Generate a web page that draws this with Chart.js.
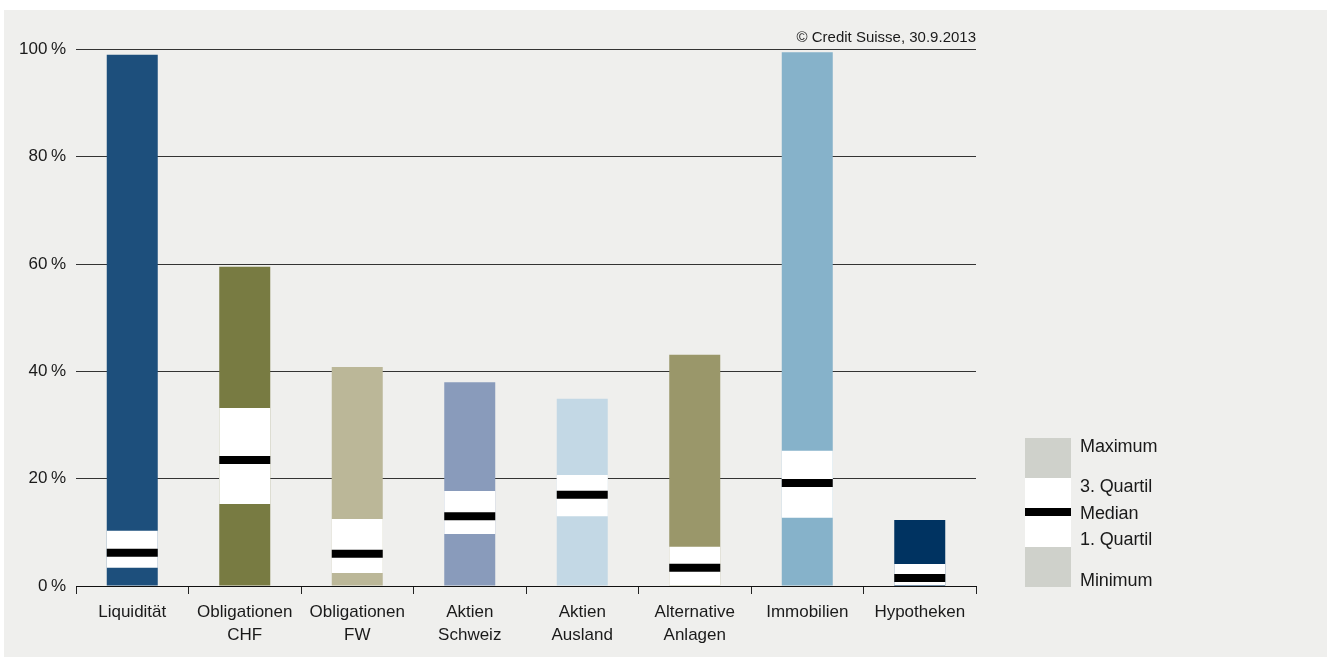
<!DOCTYPE html>
<html>
<head>
<meta charset="utf-8">
<script src="https://cdn.jsdelivr.net/npm/chart.js@4.4.1/dist/chart.umd.min.js"></script>
<style>
  html, body { margin: 0; padding: 0; background: #ffffff; }
  #bg { position: absolute; left: 4px; top: 10px; width: 1323px; height: 647px; background: #efefed; }
  #wrap { position: absolute; left: 0; top: 0; width: 1330px; height: 657px; }
  .lg { position: absolute; font-family: "Liberation Sans", Arial, sans-serif; font-size: 18px; color: #1a1a1a; letter-spacing: -0.1px; }
  .box { position: absolute; left: 1025px; width: 46px; }
</style>
</head>
<body>
<div id="bg"></div>
<div id="wrap"><canvas id="c" width="1330" height="657"></canvas></div>
<div class="box" style="top:438px;height:40px;background:#cfd1cb"></div>
<div class="box" style="top:478px;height:69px;background:#ffffff"></div>
<div class="box" style="top:508px;height:8px;background:#000000"></div>
<div class="box" style="top:547px;height:40px;background:#cfd1cb"></div>
<div class="lg" style="left:1080px;top:436px">Maximum</div>
<div class="lg" style="left:1080px;top:476px">3. Quartil</div>
<div class="lg" style="left:1080px;top:503px">Median</div>
<div class="lg" style="left:1080px;top:529px">1. Quartil</div>
<div class="lg" style="left:1080px;top:570px">Minimum</div>
<script>
const categories = [["Liquidität"], ["Obligationen", "CHF"], ["Obligationen", "FW"], ["Aktien", "Schweiz"], ["Aktien", "Ausland"], ["Alternative", "Anlagen"], ["Immobilien"], ["Hypotheken"]];
const maximum  = [99.0, 59.5, 40.8, 38.0, 34.9, 43.1, 99.5, 12.3];
const quartil3 = [10.3, 33.2, 12.5, 17.7, 20.7, 7.3, 25.2, 4.1];
const median   = [6.2, 23.5, 6.0, 13.0, 17.0, 3.4, 19.2, 1.5];
const quartil1 = [3.4, 15.3, 2.4, 9.7, 13.0, 0.1, 12.7, 0.2];
const yTicks   = [0, 20, 40, 60, 80, 100];
const colors   = ["#1d4f7c", "#787b42", "#bbb798", "#899bbb", "#c3d8e5", "#9a976a", "#86b2ca", "#003361"];

const FONT = "'Liberation Sans', Arial, sans-serif";

const copyright = {
  id: 'copyright',
  afterDraw(chart) {
    const ctx = chart.ctx;
    ctx.save();
    ctx.font = "15px " + FONT;
    ctx.fillStyle = "#1a1a1a";
    ctx.textAlign = "right";
    ctx.textBaseline = "alphabetic";
    ctx.fillText("© Credit Suisse, 30.9.2013", chart.chartArea.right, 42);
    ctx.restore();
  }
};

new Chart(document.getElementById('c'), {
  data: {
    labels: categories,
    datasets: [
      { type: 'bar', label: 'Range', data: maximum, backgroundColor: colors, order: 3,
        barPercentage: 0.4533, categoryPercentage: 1.0 },
      { type: 'bar', label: 'Quartile', data: quartil1.map((q, i) => [q, quartil3[i]]), backgroundColor: '#ffffff', order: 2,
        barPercentage: 0.4533, categoryPercentage: 1.0 },
      { type: 'line', label: 'Median', data: median, showLine: false, order: 1,
        pointStyle: 'line', pointRadius: 25.5, pointHoverRadius: 25.5, pointBorderWidth: 8, pointHoverBorderWidth: 8,
        borderColor: '#000000', backgroundColor: '#000000' }
    ]
  },
  options: {
    responsive: false,
    animation: false,
    events: [],
    layout: { padding: { top: 49.5, right: 354, left: 0, bottom: 0 } },
    plugins: { legend: { display: false }, tooltip: { enabled: false } },
    scales: {
      x: {
        stacked: true,
        offset: true,
        grid: { display: true, drawOnChartArea: false, offset: true, tickLength: 8, color: '#222', lineWidth: 1 },
        border: { display: true, color: '#111', width: 1 },
        ticks: { color: '#1a1a1a', font: { family: FONT, size: 17, lineHeight: 1.4 }, padding: 6, maxRotation: 0, autoSkip: false },
        afterFit(s) { s.height = 71; }
      },
      y: {
        stacked: false,
        min: 0, max: 100,
        afterBuildTicks(s) { s.ticks = yTicks.map(v => ({ value: v })); },
        grid: { color: '#333', lineWidth: 1, drawTicks: false },
        border: { display: false },
        ticks: { color: '#1a1a1a', font: { family: FONT, size: 17 }, padding: 10,
                 callback: v => v + '\u2009%' },
        afterFit(s) { s.width = 76; }
      }
    }
  },
  plugins: [copyright]
});
</script>
</body>
</html>
